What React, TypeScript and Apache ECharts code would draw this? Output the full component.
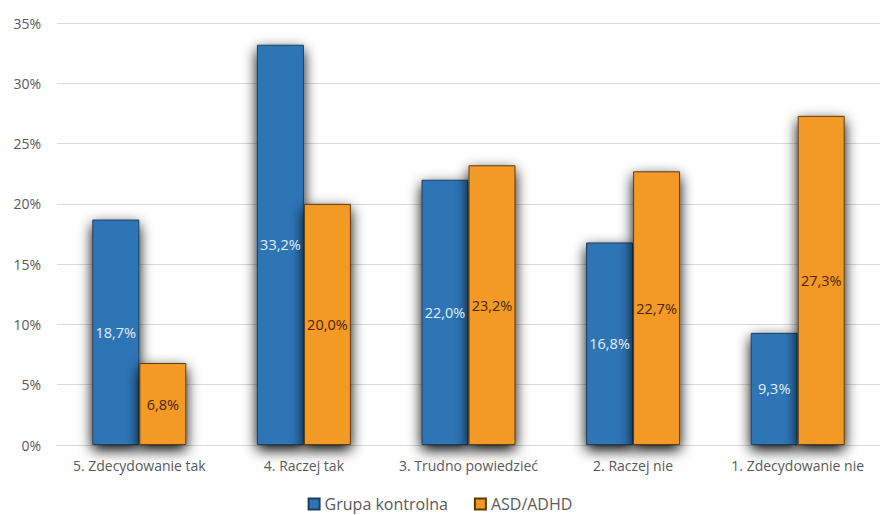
import React, { useEffect, useRef } from "react";
import * as echarts from "echarts";

const categories = [
  "5. Zdecydowanie tak",
  "4. Raczej tak",
  "3. Trudno powiedzieć",
  "2. Raczej nie",
  "1. Zdecydowanie nie",
];
const controlGroup = [18.7, 33.2, 22.0, 16.8, 9.3];
const asdAdhd = [6.8, 20.0, 23.2, 22.7, 27.3];
const seriesNames = ["Grupa kontrolna", "ASD/ADHD"];

const FONT = "'Open Sans', 'Noto Sans', sans-serif";
const fmt = (v: number) => v.toFixed(1).replace(".", ",") + "%";

export default function App() {
  const ref = useRef<HTMLDivElement>(null);

  useEffect(() => {
    if (!ref.current) return;
    const chart = echarts.init(ref.current, undefined, { renderer: "svg" });
    const barShadow = {
      shadowColor: "rgba(0,0,0,1)",
      shadowBlur: 14,
      shadowOffsetX: 0,
      shadowOffsetY: 5,
    };
    chart.setOption({
      animation: false,
      backgroundColor: "#ffffff",
      textStyle: { fontFamily: FONT },
      grid: { left: 57, right: -2, top: 23, bottom: 70 },
      legend: {
        top: 491,
        left: "center",
        itemWidth: 11,
        itemHeight: 11,
        itemGap: 26,
        icon: "rect",
        textStyle: { fontSize: 16, color: "#595959", fontFamily: FONT },
        data: seriesNames,
      },
      xAxis: {
        type: "category",
        data: categories,
        axisLine: { show: true, lineStyle: { color: "#d9d9d9" } },
        axisTick: { show: false },
        axisLabel: {
          color: "#595959",
          fontSize: 14,
          margin: 13,
          interval: 0,
          fontFamily: FONT,
        },
      },
      yAxis: {
        type: "value",
        min: 0,
        max: 35,
        interval: 5,
        axisLine: { show: false },
        axisTick: { show: false },
        splitLine: { lineStyle: { color: "#d9d9d9" } },
        axisLabel: {
          color: "#595959",
          fontSize: 14,
          margin: 16,
          formatter: (v: number) => v + "%",
          fontFamily: FONT,
        },
      },
      series: [
        {
          name: seriesNames[0],
          type: "bar",
          data: controlGroup,
          barWidth: 47,
          barGap: "0%",
          itemStyle: {
            color: "#2e75b6",
            borderColor: "#1f3f5f",
            borderWidth: 1,
            ...barShadow,
          },
          label: {
            show: true,
            position: "inside",
            color: "#e3eefa",
            fontSize: 14.5,
            fontFamily: FONT,
            formatter: (p: any) => fmt(p.value),
          },
        },
        {
          name: seriesNames[1],
          type: "bar",
          data: asdAdhd,
          barWidth: 47,
          barGap: "0%",
          itemStyle: {
            color: "#f29925",
            borderColor: "#5e3a0a",
            borderWidth: 1,
            ...barShadow,
          },
          label: {
            show: true,
            position: "inside",
            color: "#4a2600",
            fontSize: 14.5,
            fontFamily: FONT,
            formatter: (p: any) => fmt(p.value),
          },
        },
      ],
    });
    return () => chart.dispose();
  }, []);

  return (
    <div
      ref={ref}
      style={{ position: "fixed", left: 0, top: 0, width: 880, height: 515 }}
    />
  );
}
